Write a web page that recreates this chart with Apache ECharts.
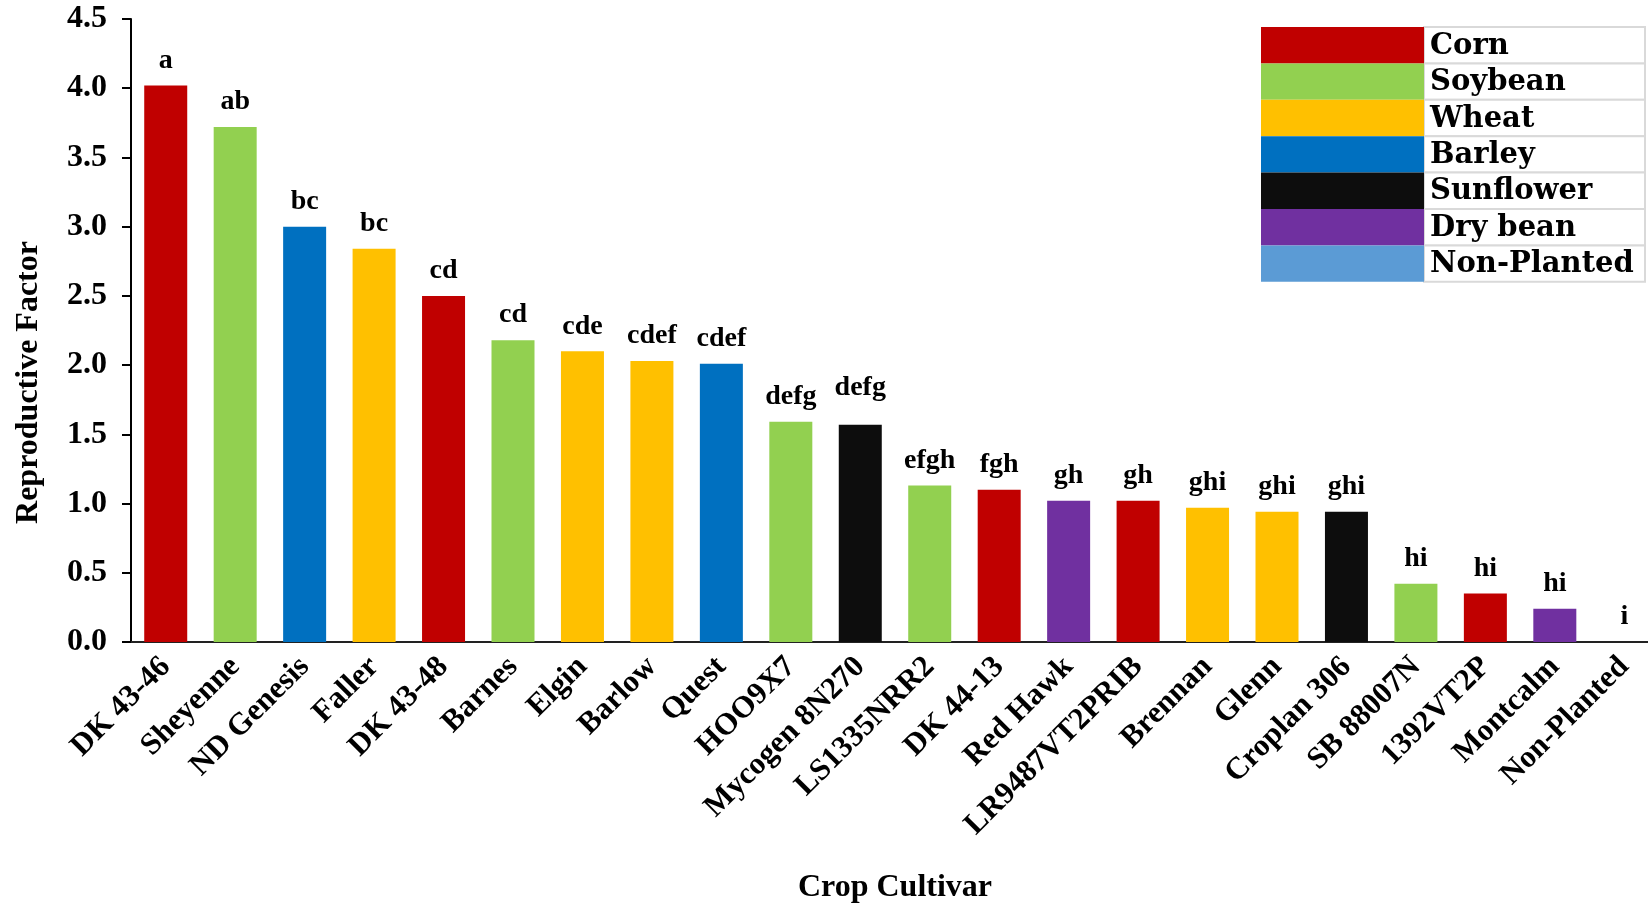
<!DOCTYPE html>
<html>
<head>
<meta charset="utf-8">
<script src="https://cdn.jsdelivr.net/npm/echarts@6/dist/echarts.min.js"></script>
<style>
  html, body { margin: 0; padding: 0; background: #fff; }
  #chart { width: 1648px; height: 906px; }
</style>
</head>
<body>
<div id="chart"></div>
<script>
// Cultivars in plotted order with their reproductive factor and significance letters
const cultivars = [
  'DK 43-46', 'Sheyenne', 'ND Genesis', 'Faller', 'DK 43-48', 'Barnes', 'Elgin',
  'Barlow', 'Quest', 'HOO9X7', 'Mycogen 8N270', 'LS1335NRR2', 'DK 44-13', 'Red Hawk',
  'LR9487VT2PRIB', 'Brennan', 'Glenn', 'Croplan 306', 'SB 88007N', '1392VT2P',
  'Montcalm', 'Non-Planted'
];
const rfValues = [
  4.02, 3.72, 3.00, 2.84, 2.50, 2.18, 2.10,
  2.03, 2.01, 1.59, 1.57, 1.13, 1.10, 1.02,
  1.02, 0.97, 0.94, 0.94, 0.42, 0.35,
  0.24, 0
];
const letters = [
  'a', 'ab', 'bc', 'bc', 'cd', 'cd', 'cde',
  'cdef', 'cdef', 'defg', 'defg', 'efgh', 'fgh', 'gh',
  'gh', 'ghi', 'ghi', 'ghi', 'hi', 'hi',
  'hi', 'i'
];
const cultivarCrop = [
  'Corn', 'Soybean', 'Barley', 'Wheat', 'Corn', 'Soybean', 'Wheat',
  'Wheat', 'Barley', 'Soybean', 'Sunflower', 'Soybean', 'Corn', 'Dry bean',
  'Corn', 'Wheat', 'Wheat', 'Sunflower', 'Soybean', 'Corn',
  'Dry bean', 'Non-Planted'
];
const cropNames = ['Corn', 'Soybean', 'Wheat', 'Barley', 'Sunflower', 'Dry bean', 'Non-Planted'];
const cropColors = ['#C00000', '#92D050', '#FFC000', '#0070C0', '#0D0D0D', '#7030A0', '#5B9BD5'];
const yTicks = [0, 0.5, 1, 1.5, 2, 2.5, 3, 3.5, 4, 4.5];

const serif = '"Liberation Serif", "Times New Roman", serif';
const colorOf = name => cropColors[cropNames.indexOf(name)];

const barData = rfValues.map((v, i) => {
  const item = { value: v, itemStyle: { color: colorOf(cultivarCrop[i]) } };
  // this letter group sits a little higher above its bar
  if (cultivars[i] === 'Mycogen 8N270') item.label = { distance: 23 };
  return item;
});

// Legend drawn as a two-column table: colour cell + crop name cell
const legendLeft = 1261, legendTop = 27, rowH = 36.4, swatchW = 163, textW = 221;
const legendGraphics = [];
cropNames.forEach((name, i) => {
  const y = legendTop + i * rowH;
  legendGraphics.push({
    type: 'rect',
    shape: { x: legendLeft + swatchW, y: y, width: textW, height: rowH },
    style: { fill: '#fff', stroke: '#d9d9d9', lineWidth: 2 },
    z: 10
  });
  legendGraphics.push({
    type: 'rect',
    shape: { x: legendLeft, y: y, width: swatchW, height: rowH },
    style: { fill: cropColors[i] },
    z: 11
  });
  legendGraphics.push({
    type: 'text',
    style: {
      x: legendLeft + swatchW + 6, y: y + rowH / 2 + 1,
      text: name,
      fill: '#000',
      font: 'bold 29px "DejaVu Serif", serif',
      textVerticalAlign: 'middle', verticalAlign: 'middle'
    },
    z: 12
  });
});

const chart = echarts.init(document.getElementById('chart'));
chart.setOption({
  animation: false,
  backgroundColor: '#fff',
  // the last category runs slightly past the right edge of the canvas
  grid: { left: 131, width: 1528, top: 19, bottom: 264, containLabel: false, outerBoundsMode: 'none' },
  xAxis: {
    type: 'category',
    data: cultivars,
    name: 'Crop Cultivar',
    nameLocation: 'middle',
    nameGap: 230,
    nameTextStyle: { fontFamily: serif, fontWeight: 'bold', fontSize: 32, color: '#000' },
    axisLine: { lineStyle: { color: '#222', width: 2 } },
    axisTick: { show: false },
    axisLabel: {
      rotate: 45, interval: 0, margin: 20,
      fontFamily: serif, fontWeight: 'bold', fontSize: 31, color: '#000'
    }
  },
  yAxis: {
    type: 'value',
    min: 0, max: 4.5, interval: 0.5,
    name: 'Reproductive Factor',
    nameLocation: 'middle',
    nameGap: 86,
    nameRotate: 90,
    nameTextStyle: {
      fontFamily: serif, fontWeight: 'bold', fontSize: 32, color: '#000',
      padding: [0, 104, 0, 0]
    },
    splitLine: { show: false },
    axisLine: { show: true, lineStyle: { color: '#000', width: 2 } },
    axisTick: { show: true, length: 9, lineStyle: { color: '#000', width: 2 } },
    axisLabel: {
      margin: 24,
      fontFamily: serif, fontWeight: 'bold', fontSize: 32, color: '#000',
      formatter: v => yTicks.includes(v) ? v.toFixed(1) : ''
    }
  },
  series: [{
    type: 'bar',
    data: barData,
    barWidth: 43,
    label: {
      show: true,
      position: 'top',
      distance: 11,
      formatter: p => letters[p.dataIndex],
      fontFamily: serif, fontWeight: 'bold', fontSize: 28, color: '#000'
    }
  }],
  graphic: legendGraphics
});
</script>
</body>
</html>
